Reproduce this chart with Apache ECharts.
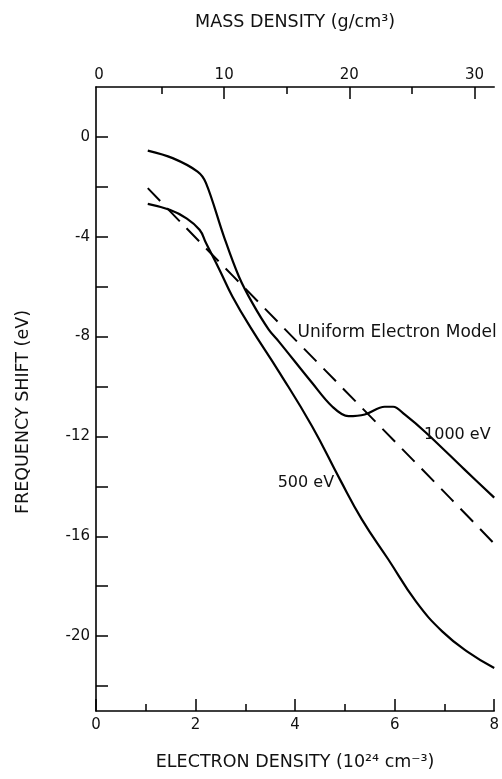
<!DOCTYPE html>
<html>
<head>
<meta charset="utf-8">
<script src="https://cdn.jsdelivr.net/npm/echarts@6/dist/echarts.min.js"></script>
<style>
  html, body { margin: 0; padding: 0; background: #fff; }
  #chart { width: 502px; height: 779px; }
</style>
</head>
<body>
<div id="chart"></div>
<script>
// Frequency shift (eV) versus electron density (10^24 cm^-3)
const shift1000eV = [
  [1.04, -0.55], [1.54, -0.85], [2.04, -1.39], [2.21, -1.85], [2.57, -3.99],
  [2.87, -5.59], [3.14, -6.65], [3.47, -7.72], [3.67, -8.19], [4.34, -9.85],
  [4.74, -10.79], [5.07, -11.19], [5.40, -11.12], [5.80, -10.81], [5.97, -10.81],
  [6.20, -11.12], [6.63, -11.85], [7.40, -13.32], [8.00, -14.45]
];
const shift500eV = [
  [1.04, -2.68], [1.48, -2.92], [1.81, -3.25], [2.08, -3.72], [2.21, -4.25],
  [2.48, -5.32], [2.74, -6.39], [3.11, -7.65], [3.67, -9.39], [4.34, -11.59],
  [4.90, -13.72], [5.34, -15.32], [5.87, -16.92], [6.43, -18.62], [6.96, -19.82],
  [7.49, -20.66], [8.00, -21.28]
];
const shiftUniform = [
  [1.04, -2.05], [1.74, -3.50], [3.77, -7.65], [7.14, -14.52], [8.00, -16.30]
];

// Axis ticks and labels
const densityLabels = [0, 2, 4, 6, 8];
const massMajorTicks = [10, 20, 30];
const massMinorTicks = [5, 15, 25];
const massLabels = [0, 10, 20, 30];
const shiftTicks = [-22, -20, -18, -16, -14, -12, -10, -8, -6, -4, -2, 0];
const shiftLabels = [-20, -16, -12, -8, -4, 0];

const FONT = 'DejaVu Sans';
const INK = '#111';

const chart = echarts.init(document.getElementById('chart'), null, { renderer: 'canvas' });

const lineAxis = { show: true, onZero: false, lineStyle: { color: '#000', width: 1.6 } };
const tickLine = { color: '#000', width: 1.5 };
const titleStyle = { fontFamily: FONT, fontSize: 17.5, color: INK };
const tickText = { fontFamily: FONT, fontSize: 15, color: INK };

chart.setOption({
  animation: false,
  backgroundColor: '#fff',
  grid: { left: 96, right: 3, top: 87, bottom: 68 },
  xAxis: [
    {
      type: 'value', position: 'bottom', min: 0, max: 8, interval: 2,
      axisLine: lineAxis,
      axisTick: { show: true, inside: true, length: 12, lineStyle: tickLine },
      minorTick: { show: true, splitNumber: 2, length: 7, lineStyle: tickLine },
      splitLine: { show: false },
      axisLabel: Object.assign({ customValues: densityLabels, margin: 7 }, tickText),
      name: 'ELECTRON DENSITY (10²⁴ cm⁻³)',
      nameLocation: 'middle', nameGap: 42,
      nameTextStyle: titleStyle
    },
    {
      type: 'value', position: 'top', min: -0.24, max: 31.58,
      axisLine: lineAxis,
      axisTick: { show: true, inside: true, length: 12, customValues: massMajorTicks, lineStyle: tickLine },
      splitLine: { show: false },
      axisLabel: Object.assign({ customValues: massLabels, margin: 4 }, tickText),
      name: 'MASS DENSITY (g/cm³)',
      nameLocation: 'middle', nameGap: 56,
      nameTextStyle: titleStyle
    },
    {
      type: 'value', position: 'top', min: -0.24, max: 31.58,
      axisLine: { show: false, onZero: false },
      axisTick: { show: true, inside: true, length: 7, customValues: massMinorTicks, lineStyle: tickLine },
      splitLine: { show: false },
      axisLabel: { show: false }
    }
  ],
  yAxis: {
    type: 'value', min: -23, max: 2,
    axisLine: lineAxis,
    axisTick: { show: true, inside: true, length: 12, customValues: shiftTicks, lineStyle: tickLine },
    splitLine: { show: false },
    axisLabel: Object.assign({ customValues: shiftLabels, margin: 6 }, tickText),
    name: 'FREQUENCY SHIFT (eV)',
    nameLocation: 'middle', nameGap: 64,
    nameTextStyle: Object.assign({ padding: [0, 26, 0, 0] }, titleStyle)
  },
  series: [
    {
      name: '1000 eV', type: 'line', xAxisIndex: 0, data: shift1000eV,
      smooth: 0.35, symbol: 'none',
      lineStyle: { color: '#000', width: 2.2 },
      markPoint: {
        symbol: 'circle', symbolSize: 0, silent: true,
        label: { show: true, position: 'right', distance: 0, formatter: '1000 eV', fontFamily: FONT, fontSize: 16, color: INK },
        data: [{ coord: [6.59, -11.92] }]
      }
    },
    {
      name: '500 eV', type: 'line', xAxisIndex: 0, data: shift500eV,
      smooth: 0.45, symbol: 'none',
      lineStyle: { color: '#000', width: 2.2 },
      markPoint: {
        symbol: 'circle', symbolSize: 0, silent: true,
        label: { show: true, position: 'right', distance: 0, formatter: '500 eV', fontFamily: FONT, fontSize: 16, color: INK },
        data: [{ coord: [3.65, -13.84] }]
      }
    },
    {
      name: 'Uniform Electron Model', type: 'line', xAxisIndex: 0, data: shiftUniform,
      smooth: 0.3, symbol: 'none',
      lineStyle: { color: '#000', width: 2, type: [18, 10] },
      markPoint: {
        symbol: 'circle', symbolSize: 0, silent: true,
        label: { show: true, position: 'right', distance: 0, formatter: 'Uniform Electron Model', fontFamily: FONT, fontSize: 17, color: INK },
        data: [{ coord: [4.05, -7.84] }]
      }
    }
  ]
});
</script>
</body>
</html>
